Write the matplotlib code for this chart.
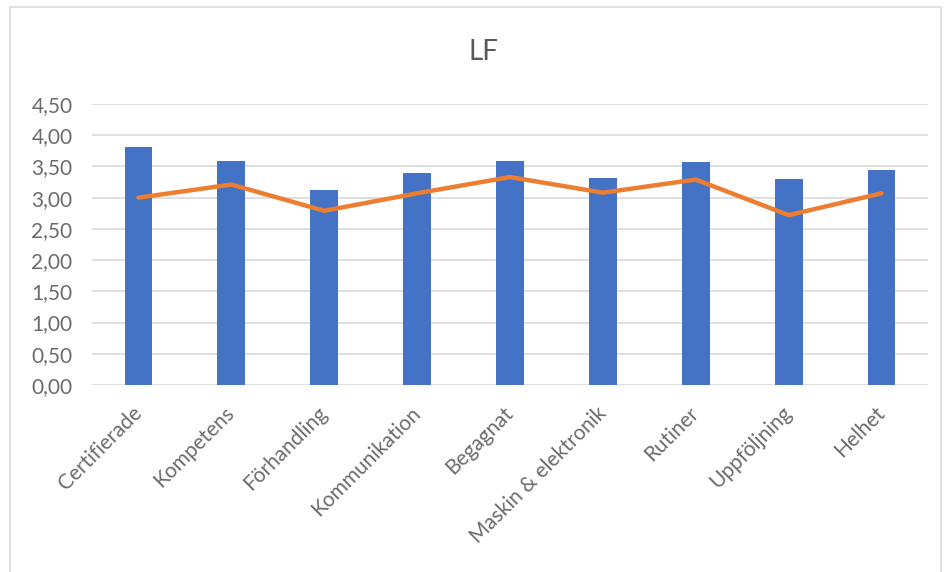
import matplotlib
matplotlib.use("Agg")
import matplotlib.pyplot as plt
from matplotlib.patches import Rectangle
from matplotlib.ticker import FuncFormatter

categories = ["Certifierade", "Kompetens", "Förhandling", "Kommunikation", "Begagnat",
              "Maskin & elektronik", "Rutiner", "Uppföljning", "Helhet"]
bar_values = [3.81, 3.59, 3.13, 3.40, 3.59, 3.32, 3.57, 3.30, 3.44]
line_values = [3.00, 3.21, 2.79, 3.07, 3.33, 3.08, 3.29, 2.72, 3.07]
y_ticks = [0.0, 0.5, 1.0, 1.5, 2.0, 2.5, 3.0, 3.5, 4.0, 4.5]

plt.rcParams['font.family'] = ['Lato', 'DejaVu Sans']

fig = plt.figure(figsize=(9.47, 5.72), dpi=100)
fig.patches.append(Rectangle((10/947, -0.05), 931/947, 1.05 - 7/572, transform=fig.transFigure,
                             fill=False, edgecolor='#D9D9D9', linewidth=1.2))
ax = fig.add_axes([92/947, 1 - 385/572, (928-92)/947, (385-104)/572])

x = list(range(len(categories)))
ax.bar(x, bar_values, width=0.3, color='#4472C4', zorder=3)
ax.plot(x, line_values, color='#ED7D31', linewidth=3.2, zorder=4, solid_capstyle='round')

ax.set_xlim(-0.5, len(categories) - 0.5)
ax.set_ylim(0, 4.5)
ax.set_yticks(y_ticks)
ax.yaxis.set_major_formatter(FuncFormatter(lambda v, p: f"{v:.2f}".replace('.', ',')))
ax.grid(axis='y', color='#D9D9D9', linewidth=1.2, zorder=0)
for s in ax.spines.values():
    s.set_visible(False)
ax.tick_params(axis='both', length=0, colors='#6b6b6b', labelsize=15)
ax.tick_params(axis='y', pad=14)
ax.set_xticks(x)
ax.set_xticklabels(categories, rotation=45, ha='right', va='center', rotation_mode='anchor')
ax.tick_params(axis='x', pad=18)

fig.text(483/947, 1 - 52/572, "LF", ha='center', va='center', fontsize=20, color='#595959')

fig.savefig("out.png", dpi=100)
